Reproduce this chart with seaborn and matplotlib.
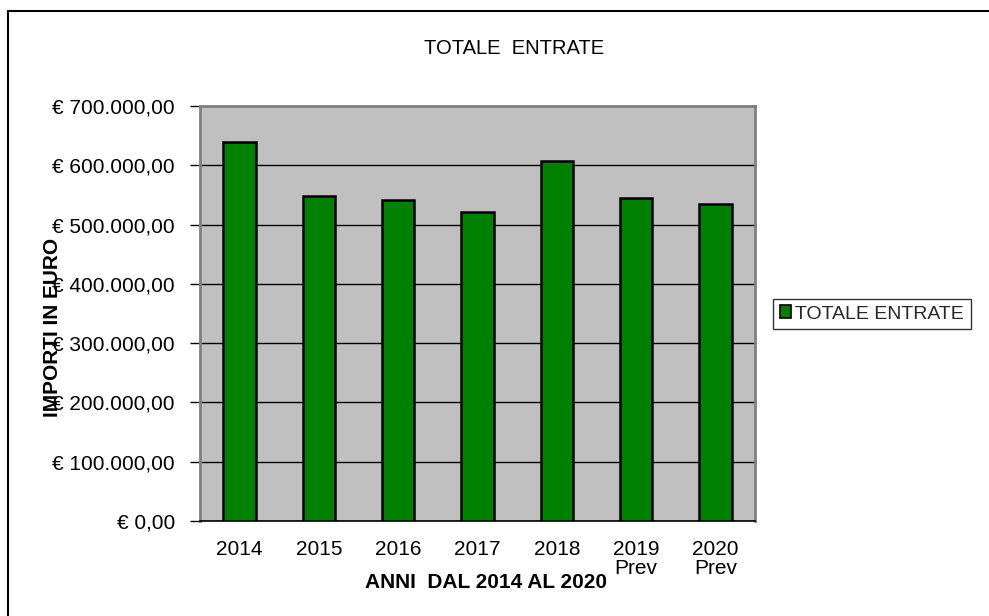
import matplotlib
matplotlib.use("Agg")
import matplotlib.pyplot as plt
import matplotlib.patches as mpatches
import seaborn as sns
import pandas as pd

# dati
anni = ["2014", "2015", "2016", "2017", "2018", "2019\nPrev", "2020\nPrev"]
entrate = [640000, 549000, 541000, 521000, 607000, 545000, 534000]
y_ticks = [0, 100000, 200000, 300000, 400000, 500000, 600000, 700000]

df = pd.DataFrame({"anno": anni, "importo": entrate})

sns.set_theme(style="white")
plt.rcParams["font.family"] = ["Liberation Sans", "DejaVu Sans"]

fig = plt.figure(figsize=(9.89, 6.16), dpi=100)
ax = fig.add_axes([200 / 989, 1 - 521 / 616, 555 / 989, 415 / 616])
ax.set_facecolor("#C0C0C0")

sns.barplot(data=df, x="anno", y="importo", color="#008000", saturation=1,
            edgecolor="black", linewidth=1.8, width=0.41, ax=ax, zorder=3)

ax.set_ylim(0, 700000)
ax.set_xlim(-0.5, len(anni) - 0.5)
ax.set_yticks(y_ticks)
ax.set_yticklabels(["€ " + f"{v:,.2f}".replace(",", "X").replace(".", ",").replace("X", ".")
                    for v in y_ticks])
ax.yaxis.grid(True, color="black", linewidth=1)
ax.set_axisbelow(True)

# tacche tra le categorie, etichette al centro
ax.set_xticks([i - 0.5 for i in range(len(anni) + 1)], minor=True)
ax.tick_params(axis="x", which="minor", length=9, width=1, color="black", direction="out")
ax.tick_params(axis="x", which="major", length=0, pad=14, labelsize=15, colors="black")
ax.tick_params(axis="y", length=7, width=1, color="black", direction="out",
               pad=11, labelsize=15, colors="black", left=True)
for lab in ax.get_xticklabels():
    lab.set_linespacing(1.0)

for s in ["top", "right", "left"]:
    ax.spines[s].set_color("#808080")
    ax.spines[s].set_linewidth(2)
ax.spines["bottom"].set_color("black")
ax.spines["bottom"].set_linewidth(1.2)

ax.set_xlabel("ANNI  DAL 2014 AL 2020", fontsize=15, fontweight="bold", color="black")
ax.xaxis.set_label_coords((486 - 200) / 555, -0.125)
ax.set_ylabel("IMPORTI IN EURO", fontsize=15, fontweight="bold", color="black")
ax.yaxis.set_label_coords((62 - 200) / 555, 0.467)

fig.text(514 / 989, 1 - 48 / 616, "TOTALE  ENTRATE", ha="center", va="center",
         fontsize=14.5, color="black")

handle = mpatches.Patch(facecolor="#008000", edgecolor="black", linewidth=1.2)
leg = fig.legend([handle], ["TOTALE ENTRATE"], loc="center left",
                 bbox_to_anchor=(773 / 989, 1 - 314 / 616), frameon=True,
                 fancybox=False, fontsize=14, handlelength=0.6, handleheight=0.6,
                 handletextpad=0.2, borderpad=0.35, borderaxespad=0)
leg.get_frame().set_edgecolor("black")
leg.get_frame().set_linewidth(1)

# bordo esterno del grafico
fig.patches.append(mpatches.Rectangle((8 / 989, -0.2), 1.2, 1.2 - 11 / 616,
                                      transform=fig.transFigure, fill=False,
                                      edgecolor="black", linewidth=1.5))

fig.savefig("out.png", dpi=100)
